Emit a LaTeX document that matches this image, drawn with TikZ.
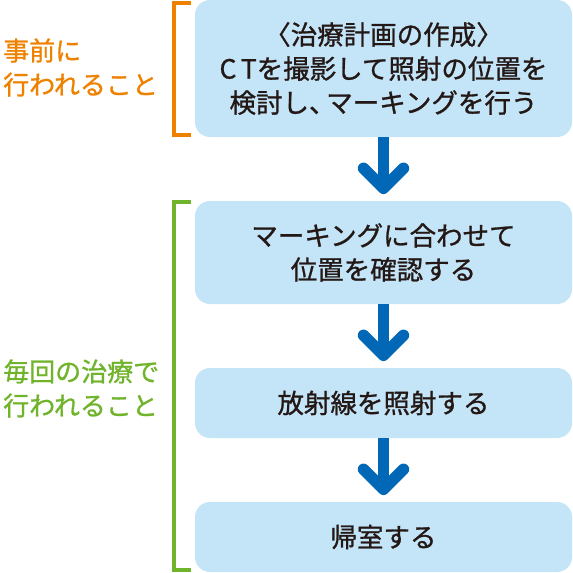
\documentclass[tikz,border=0pt]{standalone}
\usepackage{fontspec}
\setmainfont{Noto Sans CJK JP}[FakeBold=1]
\usepackage{tikz}
\definecolor{boxblue}{RGB}{196,228,247}
\definecolor{arrowblue}{RGB}{0,104,183}
\definecolor{prepare}{RGB}{238,130,0}
\definecolor{daily}{RGB}{112,180,44}
\definecolor{ink}{RGB}{35,24,21}
\newcommand{\w}{377pt}

\begin{document}
\begin{tikzpicture}[x=1pt, y=-1pt,
    step box/.style={fill=boxblue, rounded corners=15pt, minimum width=\w, inner sep=0pt, align=center, text=ink, font=\fontsize{26.5}{34}\selectfont},
    shaft/.style={draw=arrowblue, line width=11.5pt},
    chevron/.style={draw=arrowblue, line width=11.5pt, line cap=round, line join=round},
    bracket/.style={line width=4pt},
    phase/.style={anchor=west, align=left, inner sep=0pt, font=\fontsize{26}{34}\selectfont}]
    \useasboundingbox (0,0) rectangle (573,573);

    % Steps
    \node[step box, minimum height=137pt] (box-1) at (383.5,68.5) {〈治療計画の作成〉\\C\,Tを撮影して照射の位置を\\検討し、\kern-.35em マーキングを行う};
    \node[step box, minimum height=103pt] (box-2) at (383.5,252.5) {マーキングに合わせて\\位置を確認する};
    \node[step box, minimum height=70pt] (box-3) at (383.5,403) {放射線を照射する};
    \node[step box, minimum height=70pt] (box-4) at (383.5,537) {帰室する};

    % Arrows
    \foreach \a/\b in {1/2, 2/3, 3/4} {
        \coordinate (tip-\a) at ([yshift=12.5pt]box-\b.north);
        \draw[shaft] (box-\a.south) -- (tip-\a);
        \draw[chevron] ([shift={(-20pt,20pt)}]tip-\a) -- (tip-\a) -- ([shift={(20pt,20pt)}]tip-\a);
    }

    % Brackets
    \draw[bracket, prepare] ([shift={(-4pt,-3pt)}]box-1.north west) -| ([shift={(-21pt,2pt)}]box-1.south west) -- ([shift={(-4pt,2pt)}]box-1.south west);
    \draw[bracket, daily] ([shift={(-4pt,-1.5pt)}]box-2.north west) -| ([shift={(-21pt,2pt)}]box-4.south west) -- ([shift={(-4pt,2pt)}]box-4.south west);

    % Labels
    \node[phase, text=prepare] (phase-1) at (3,67.5) {事前に\\行われること};
    \node[phase, text=daily] (phase-2) at (3,388.5) {毎回の治療で\\行われること};

\end{tikzpicture}
\end{document}
